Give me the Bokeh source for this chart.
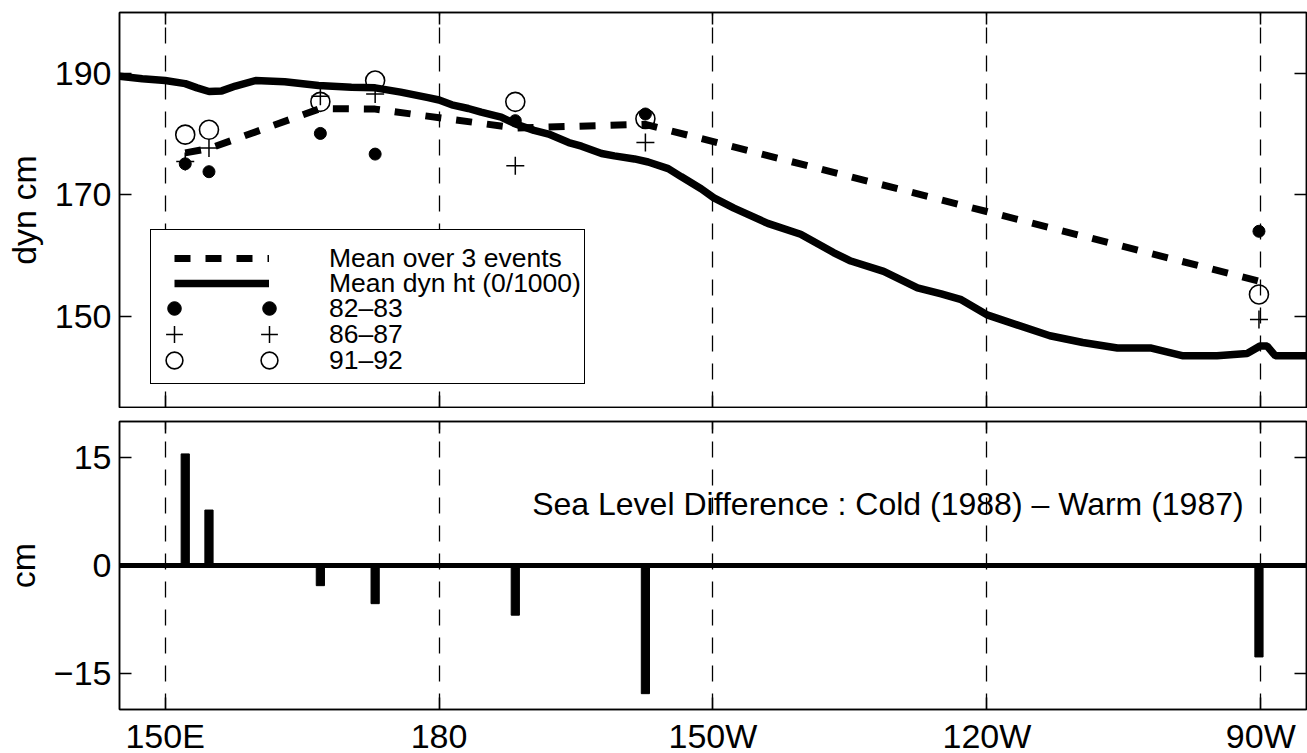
from bokeh.plotting import figure
from bokeh.models import (Range1d, FixedTicker, LinearAxis, Span, Label,
                          Legend, LegendItem, GlobalInlineStyleSheet)
from bokeh.layouts import column
from bokeh.embed import file_html
from bokeh.resources import INLINE

FONT = "Liberation Sans"

# ---------------- data ----------------
# station longitudes in degrees east (150E=150, 180=180, 150W=210, 120W=240, 90W=270)
station_lon = [152.2, 154.8, 167.0, 173.0, 188.35, 202.6, 269.8]

dyn_8283 = [175.1, 173.8, 180.1, 176.7, 182.2, 183.3, 164.0]
dyn_8687 = [175.5, 177.7, 186.2, 186.6, 174.8, 178.6, 149.5]
dyn_9192 = [179.9, 180.7, 185.3, 188.8, 185.3, 182.5, 153.6]
mean_3events = [176.9, 177.6, 184.2, 184.1, 181.0, 181.6, 155.8]

curve_lon = [145.0, 147.5, 150.0, 152.2, 153.5, 154.8, 156.2, 157.7, 159.9, 163.1,
             166.8, 170.4, 173.0, 175.8, 178.8, 180.0, 181.4, 183.2, 184.6, 186.8,
             188.3, 190.4, 192.0, 194.2, 195.6, 197.8, 199.2, 201.4, 202.9, 205.1,
             206.5, 208.7, 210.1, 212.3, 216.0, 219.6, 223.2, 225.1, 228.7, 232.4,
             235.0, 237.1, 240.1, 243.3, 246.9, 250.5, 254.3, 257.9, 261.5, 265.2,
             268.5, 269.9, 270.7, 271.6, 275.0]
curve_dynht = [189.5, 189.1, 188.8, 188.3, 187.6, 187.0, 187.1, 187.9, 188.8, 188.6,
               188.0, 187.7, 187.6, 186.9, 186.0, 185.6, 184.8, 184.2, 183.6, 182.8,
               181.7, 180.6, 180.0, 178.6, 178.0, 176.8, 176.4, 175.9, 175.4, 174.3,
               173.0, 171.0, 169.5, 167.8, 165.3, 163.5, 160.5, 159.1, 157.4, 154.7,
               153.7, 152.8, 150.2, 148.6, 146.8, 145.7, 144.8, 144.8, 143.5, 143.5,
               143.9, 145.1, 145.1, 143.5, 143.5]

sea_level_diff = [15.5, 7.7, -2.8, -5.3, -6.9, -17.8, -12.7]

x_ticks = [150, 180, 210, 240, 270]
x_tick_labels = {150: "150E", 180: "180", 210: "150W", 240: "120W", 270: "90W"}
top_y_ticks = [150, 170, 190]
bot_y_ticks = [-15, 0, 15]
bot_y_labels = {-15: "\u221215", 0: "0", 15: "15"}
legend_labels = ["Mean over 3 events", "Mean dyn ht (0/1000)",
                 "82\u201383", "86\u201387", "91\u201392"]
title_text = "Sea Level Difference : Cold (1988) \u2013 Warm (1987)"

# ---------------- layout constants (pixels) ----------------
FIG_W = 1307
BORDER_L = 118
BORDER_R = 1
FRAME_W = FIG_W - BORDER_L - BORDER_R
PX_PER_DEG = 9.138
X0 = 145.0
x_range = Range1d(X0, X0 + FRAME_W / PX_PER_DEG)

TOP_BORDER_T = 12
TOP_FRAME_H = 395
BOT_BORDER_T = 13
BOT_FRAME_H = 288
XLABEL_STANDOFF = 7
BOT_BORDER_B = XLABEL_STANDOFF + 43


def style_axis(ax, ticks, labeled=True, overrides=None):
    ax.axis_line_color = "black"
    ax.axis_line_width = 1.5
    ax.major_tick_line_color = "black"
    ax.major_tick_line_width = 1.5
    ax.minor_tick_line_color = "black"
    ax.minor_tick_line_width = 1.5
    ax.major_tick_out = 0
    ax.minor_tick_out = 0
    if labeled:
        ax.ticker = FixedTicker(ticks=ticks)
        ax.major_tick_in = 12
        ax.minor_tick_in = 0
        ax.major_label_text_font = FONT
        ax.major_label_text_font_size = "34px"
        ax.major_label_text_color = "black"
        ax.major_label_standoff = 8
        if overrides:
            ax.major_label_overrides = overrides
    else:
        # ticks only: minor ticks carry no labels
        ax.ticker = FixedTicker(ticks=[], minor_ticks=ticks)
        ax.major_tick_in = 0
        ax.minor_tick_in = 12
        ax.major_label_standoff = 0


def base_figure(height, y_range, border_top, border_bottom):
    p = figure(width=FIG_W, height=height, x_range=x_range, y_range=y_range,
               output_backend="svg", toolbar_location=None,
               min_border_left=BORDER_L, min_border_right=BORDER_R,
               min_border_top=border_top, min_border_bottom=border_bottom)
    p.outline_line_color = "black"
    p.outline_line_width = 1.5
    p.outline_line_alpha = 1
    p.ygrid.visible = False
    p.xgrid.ticker = FixedTicker(ticks=x_ticks)
    p.xgrid.grid_line_color = "black"
    p.xgrid.grid_line_width = 1.3
    p.xgrid.grid_line_dash = "16 12"
    p.xgrid.grid_line_alpha = 1
    return p


def add_side_axes(p, y_ticks):
    ra = LinearAxis()
    style_axis(ra, y_ticks, labeled=False)
    p.add_layout(ra, "right")
    ta = LinearAxis()
    style_axis(ta, x_ticks, labeled=False)
    p.add_layout(ta, "above")


def ylabel(ax, text):
    ax.axis_label = text
    ax.axis_label_text_font = FONT
    ax.axis_label_text_font_size = "34px"
    ax.axis_label_text_font_style = "normal"
    ax.axis_label_text_color = "black"
    ax.axis_label_standoff = 9


# ---------------- top panel ----------------
p1 = base_figure(TOP_BORDER_T + TOP_FRAME_H + 1, Range1d(135, 200), TOP_BORDER_T, 1)
style_axis(p1.xaxis[0], x_ticks, labeled=False)
style_axis(p1.yaxis[0], top_y_ticks)
ylabel(p1.yaxis[0], "dyn cm")
add_side_axes(p1, top_y_ticks)

r_curve = p1.line(curve_lon, curve_dynht, line_width=7.5, line_color="black")
r_mean = p1.line(station_lon, mean_3events, line_width=7, line_color="black",
                 line_dash="16 15")
r_a = p1.scatter(station_lon, dyn_8283, marker="circle", size=12,
                 fill_color="black", line_color="black")
r_b = p1.scatter(station_lon, dyn_8687, marker="cross", size=18,
                 line_color="black", line_width=1.5)
r_c = p1.scatter(station_lon, dyn_9192, marker="circle", size=19,
                 fill_color=None, line_color="black", line_width=1.6)
r_blank = p1.scatter(station_lon, dyn_8283, marker="circle", size=0,
                     fill_alpha=0, line_alpha=0)

# ---- legend, built from single-row Legend models (pixel positions in picture coords)
FRAME_LEFT_PX = BORDER_L
FRAME_BOTTOM_PX = TOP_BORDER_T + TOP_FRAME_H
LEG_FONT = "26.5px"
ROW_H = 34


def make_legend(label, renderer, left_px, cy_px, gw, gh, standoff, framed=False):
    gw, gh, standoff = int(round(gw)), int(round(gh)), int(round(standoff))
    row = max(gh, ROW_H) if label else gh
    lg = Legend(items=[LegendItem(label=label, renderers=[renderer])],
                location=(float(left_px - FRAME_LEFT_PX),
                          float(FRAME_BOTTOM_PX - (cy_px + row / 2.0))))
    lg.margin = 0
    lg.padding = 0
    lg.spacing = 0
    lg.glyph_width = gw
    lg.glyph_height = row
    lg.label_standoff = standoff
    lg.label_width = 0
    if label:
        lg.label_height = ROW_H
        lg.label_text_font = FONT
        lg.label_text_font_size = LEG_FONT
        lg.label_text_color = "black"
    else:
        lg.label_height = 0
        lg.label_text_font_size = "10px"
    if framed:
        lg.border_line_color = "black"
        lg.border_line_width = 1.5
        lg.border_line_alpha = 1
        lg.background_fill_color = "white"
        lg.background_fill_alpha = 1
    else:
        lg.border_line_alpha = 0
        lg.background_fill_alpha = 0
    p1.add_layout(lg)


# frame of the legend (433 x 153 box, top-left at 149, 231)
make_legend("", r_blank, 149, 231 + 153 / 2.0, 433, 153, 0, framed=True)

GLYPH_L, GLYPH_R, TEXT_X = 173, 268, 328
row_cy = [258, 283, 308, 334, 360]
# line samples with their labels
make_legend(legend_labels[0], r_mean, GLYPH_L, row_cy[0], GLYPH_R - GLYPH_L, ROW_H, TEXT_X - GLYPH_R)
make_legend(legend_labels[1], r_curve, GLYPH_L, row_cy[1], GLYPH_R - GLYPH_L, ROW_H, TEXT_X - GLYPH_R)
# marker samples: one at each end of the sample space, label after the right one
for lab, rend, g, cy in ((legend_labels[2], r_a, 34, row_cy[2]),
                         (legend_labels[3], r_b, 42, row_cy[3]),
                         (legend_labels[4], r_c, 42, row_cy[4])):
    make_legend("", rend, GLYPH_L - g // 2, cy, g, g, 0)
    make_legend(lab, rend, GLYPH_R - g // 2, cy, g, g, TEXT_X - (GLYPH_R + g // 2))

# ---------------- bottom panel ----------------
p2 = base_figure(BOT_BORDER_T + BOT_FRAME_H + BOT_BORDER_B, Range1d(-20, 20),
                 BOT_BORDER_T, BOT_BORDER_B)
style_axis(p2.xaxis[0], x_ticks, overrides=x_tick_labels)
p2.xaxis[0].major_label_standoff = XLABEL_STANDOFF
style_axis(p2.yaxis[0], bot_y_ticks, overrides=bot_y_labels)
ylabel(p2.yaxis[0], "cm")
add_side_axes(p2, bot_y_ticks)

p2.vbar(x=station_lon, top=sea_level_diff, bottom=0, width=0.9,
        fill_color="black", line_color="black")
p2.add_layout(Span(location=0, dimension="width", line_color="black",
                   line_width=5))
p2.add_layout(Label(x=190.2, y=8.5, text=title_text,
                    text_font=FONT, text_font_size="32px",
                    text_baseline="alphabetic", text_color="black"))

layout = column(p1, p2)
# the last few pixels below the tick labels are empty; keep the page from scrolling
layout.stylesheets = [GlobalInlineStyleSheet(css="html, body { overflow: hidden; }")]
open("out.html", "w").write(file_html(layout, INLINE))
